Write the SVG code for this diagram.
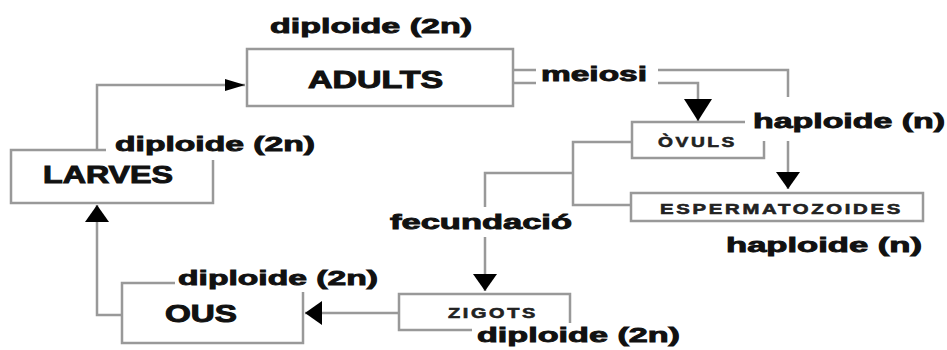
<svg xmlns="http://www.w3.org/2000/svg" width="947" height="350" viewBox="0 0 947 350">
<style>
.box{fill:#fff;stroke:#999;stroke-width:2.5}
.con{fill:none;stroke:#999;stroke-width:2.5}
.big{font-family:"Liberation Sans",Arial,sans-serif;font-weight:bold;font-size:21px;fill:#111;stroke:#111;stroke-width:0.9}
.name{font-family:"Liberation Sans",Arial,sans-serif;font-weight:bold;font-size:24px;fill:#111;stroke:#111;stroke-width:1}
.small{font-family:"Liberation Sans",Arial,sans-serif;font-weight:bold;font-size:15px;letter-spacing:2px;fill:#222;stroke:#222;stroke-width:0.6}
.bg{fill:#fff}
</style>
<defs>
<marker id="arrSm" viewBox="0 0 10 10" refX="10" refY="5" markerWidth="20" markerHeight="12" markerUnits="userSpaceOnUse" orient="auto" preserveAspectRatio="none"><path d="M0,0 L10,5 L0,10 z" fill="#000"/></marker>
<marker id="arr" viewBox="0 0 10 10" refX="10" refY="5" markerWidth="17" markerHeight="24" markerUnits="userSpaceOnUse" orient="auto" preserveAspectRatio="none"><path d="M0,0 L10,5 L0,10 z" fill="#000"/></marker>
<marker id="arrBig" viewBox="0 0 10 10" refX="10" refY="5" markerWidth="22" markerHeight="28" markerUnits="userSpaceOnUse" orient="auto" preserveAspectRatio="none"><path d="M0,0 L10,5 L0,10 z" fill="#000"/></marker>
</defs>
<rect width="947" height="350" fill="#fff"/>

<g id="adults"><rect class="box" x="247" y="49" width="266" height="57"/><text class="name" x="308" y="88" textLength="135" lengthAdjust="spacingAndGlyphs">ADULTS</text></g>
<g id="larves"><rect class="box" x="11" y="150" width="202" height="53"/><text class="name" x="43" y="183" textLength="130" lengthAdjust="spacingAndGlyphs">LARVES</text></g>
<g id="ovuls"><rect class="box" x="632" y="122" width="132" height="36"/><text class="small" x="658" y="147" textLength="79" lengthAdjust="spacingAndGlyphs">ÒVULS</text></g>
<g id="espermatozoides"><rect class="box" x="631" y="193" width="292" height="28"/><text class="small" x="660" y="214" font-size="14" textLength="243" lengthAdjust="spacingAndGlyphs">ESPERMATOZOIDES</text></g>
<g id="zigots"><rect class="box" x="399" y="294" width="171" height="36"/><text class="small" x="448" y="318" textLength="90" lengthAdjust="spacingAndGlyphs">ZIGOTS</text></g>
<g id="ous"><rect class="box" x="122" y="283" width="181" height="60"/><text class="name" x="165" y="322" textLength="72" lengthAdjust="spacingAndGlyphs">OUS</text></g>

<g id="connectors">
<path class="con" d="M97,150 V85 H245" marker-end="url(#arrSm)"/>
<path class="con" d="M513,83 H698 V121" marker-end="url(#arrBig)"/>
<path class="con" d="M513,70 H788 V189" marker-end="url(#arr)"/>
<path class="con" d="M632,142 H573 V205 H631"/>
<path class="con" d="M573,173 H485 V291" marker-end="url(#arr)"/>
<path class="con" d="M399,313 H305" marker-end="url(#arr)"/>
<path class="con" d="M122,315 H97 V205" marker-end="url(#arr)"/>
</g>

<g id="labels">
<text class="big" x="270" y="33" textLength="202" lengthAdjust="spacingAndGlyphs">diploide (2n)</text>
<rect class="bg" x="106" y="134" width="214" height="26"/>
<text class="big" x="115" y="151" textLength="200" lengthAdjust="spacingAndGlyphs">diploide (2n)</text>
<rect class="bg" x="536" y="60" width="122" height="30"/>
<text class="big" x="541" y="81" textLength="106" lengthAdjust="spacingAndGlyphs">meiosi</text>
<rect class="bg" x="745" y="97" width="202" height="44"/>
<text class="big" x="753" y="128" textLength="192" lengthAdjust="spacingAndGlyphs">haploide (n)</text>
<rect class="bg" x="385" y="207" width="192" height="30"/>
<text class="big" x="390" y="229" textLength="182" lengthAdjust="spacingAndGlyphs">fecundació</text>
<rect class="bg" x="719" y="223" width="212" height="36"/>
<text class="big" x="726" y="252" textLength="196" lengthAdjust="spacingAndGlyphs">haploide (n)</text>
<rect class="bg" x="175" y="264" width="208" height="28"/>
<text class="big" x="178" y="285" textLength="200" lengthAdjust="spacingAndGlyphs">diploide (2n)</text>
<rect class="bg" x="472" y="323" width="214" height="27"/>
<text class="big" x="477" y="342" textLength="203" lengthAdjust="spacingAndGlyphs">diploide (2n)</text>
</g>
</svg>
